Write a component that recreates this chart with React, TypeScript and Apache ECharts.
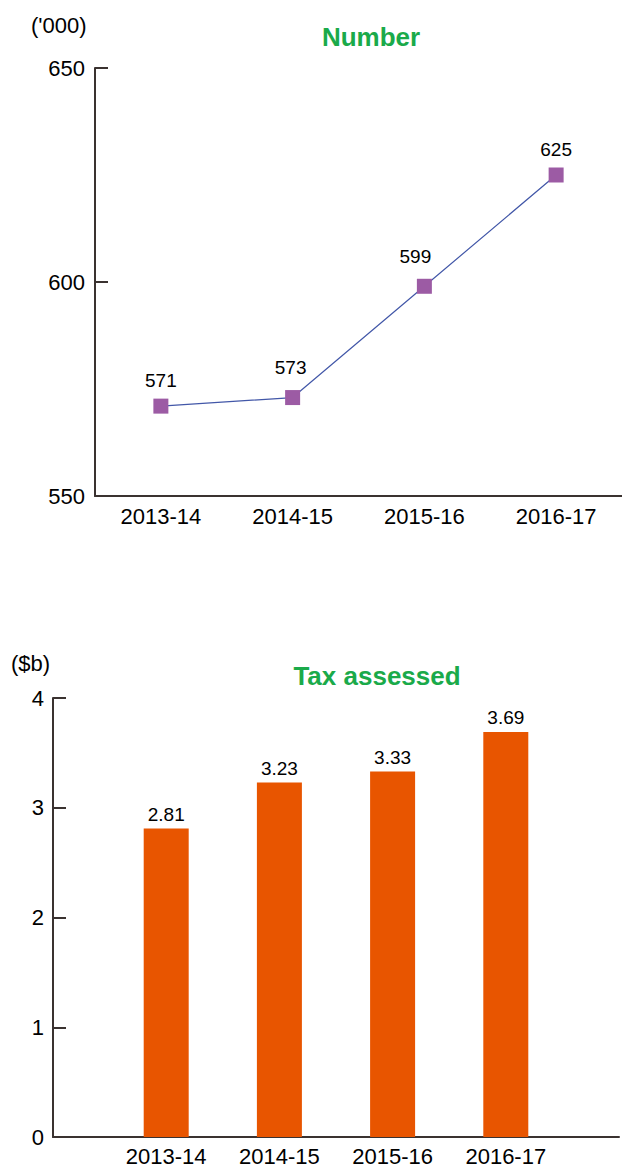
import React, { useEffect, useRef } from "react";
import * as echarts from "echarts";

const years = ["2013-14", "2014-15", "2015-16", "2016-17"];
const numberValues = [571, 573, 599, 625];
const taxValues = [2.81, 3.23, 3.33, 3.69];
const numberTicks = { min: 550, max: 650, interval: 50 };
const taxTicks = { min: 0, max: 4, interval: 1 };

const numberLabelOffsets = [[0, 0], [-2, -4], [-9, -4], [0, 0]];

const AXIS = "#3a3230";
const SANS = "'Liberation Sans', Arial, sans-serif";

export default function App() {
  const ref = useRef<HTMLDivElement>(null);
  useEffect(() => {
    if (!ref.current) return;
    const chart = echarts.init(ref.current, null, { renderer: "svg" });
    const taxCats = ["", ...years, ""];
    const taxData: (number | null)[] = [null, ...taxValues, null];
    const option: any = {
      animation: false,
      grid: [
        { left: 95, top: 68, right: 0, height: 428 },
        { left: 53, top: 698, right: 0, height: 439 },
      ],
      xAxis: [
        {
          gridIndex: 0,
          type: "category",
          data: years,
          boundaryGap: true,
          axisLine: { lineStyle: { color: AXIS, width: 2 } },
          axisTick: { inside: true, length: 10, lineStyle: { color: AXIS, width: 2 } },
          axisLabel: { color: "#000", fontFamily: SANS, fontSize: 22, margin: 9 },
        },
        {
          gridIndex: 1,
          type: "category",
          data: taxCats,
          boundaryGap: false,
          axisLine: { lineStyle: { color: AXIS, width: 2 } },
          axisTick: { show: false },
          axisLabel: { color: "#000", fontFamily: SANS, fontSize: 22, margin: 8, interval: 0 },
        },
      ],
      yAxis: [
        {
          gridIndex: 0,
          type: "value",
          min: numberTicks.min,
          max: numberTicks.max,
          interval: numberTicks.interval,
          splitLine: { show: false },
          axisLine: { show: true, lineStyle: { color: AXIS, width: 2 } },
          axisTick: { show: true, inside: true, length: 13, lineStyle: { color: AXIS, width: 2 } },
          axisLabel: { color: "#000", fontFamily: SANS, fontSize: 22, margin: 10 },
        },
        {
          gridIndex: 1,
          type: "value",
          min: taxTicks.min,
          max: taxTicks.max,
          interval: taxTicks.interval,
          splitLine: { show: false },
          axisLine: { show: true, lineStyle: { color: AXIS, width: 2 } },
          axisTick: { show: true, inside: true, length: 13, lineStyle: { color: AXIS, width: 2 } },
          axisLabel: { color: "#000", fontFamily: SANS, fontSize: 22, margin: 9 },
        },
      ],
      series: [
        {
          type: "line",
          xAxisIndex: 0,
          yAxisIndex: 0,
          data: numberValues.map((v, i) => ({
            value: v,
            label: { offset: numberLabelOffsets[i] },
          })),
          symbol: "rect",
          symbolSize: 15,
          itemStyle: { color: "#9c5ba4" },
          lineStyle: { color: "#4257a8", width: 1.2 },
          label: {
            show: true,
            position: "top",
            distance: 9,
            color: "#000",
            fontFamily: SANS,
            fontSize: 19,
          },
          z: 3,
        },
        {
          type: "bar",
          xAxisIndex: 1,
          yAxisIndex: 1,
          data: taxData,
          barWidth: 45,
          itemStyle: { color: "#e85500" },
          label: {
            show: true,
            position: "top",
            distance: 5,
            color: "#000",
            fontFamily: SANS,
            fontSize: 19,
            formatter: (p: any) => (p.value == null ? "" : Number(p.value).toFixed(2)),
          },
        },
      ],
      graphic: [
        {
          type: "text",
          x: 31,
          y: 25,
          style: { text: "('000)", fill: "#000", font: `22px ${SANS}`, align: "left", verticalAlign: "middle" },
        },
        {
          type: "text",
          x: 371,
          y: 37,
          style: { text: "Number", fill: "#1aaa4a", font: `bold 26px ${SANS}`, align: "center", verticalAlign: "middle" },
        },
        {
          type: "text",
          x: 11,
          y: 663,
          style: { text: "($b)", fill: "#000", font: `22px ${SANS}`, align: "left", verticalAlign: "middle" },
        },
        {
          type: "text",
          x: 377,
          y: 676,
          style: { text: "Tax assessed", fill: "#1aaa4a", font: `bold 26px ${SANS}`, align: "center", verticalAlign: "middle" },
        },
      ],
    };
    chart.setOption(option);
    return () => chart.dispose();
  }, []);
  return (
    <div
      ref={ref}
      style={{ position: "fixed", left: 0, top: 0, width: 622, height: 1169, background: "#fff" }}
    />
  );
}
